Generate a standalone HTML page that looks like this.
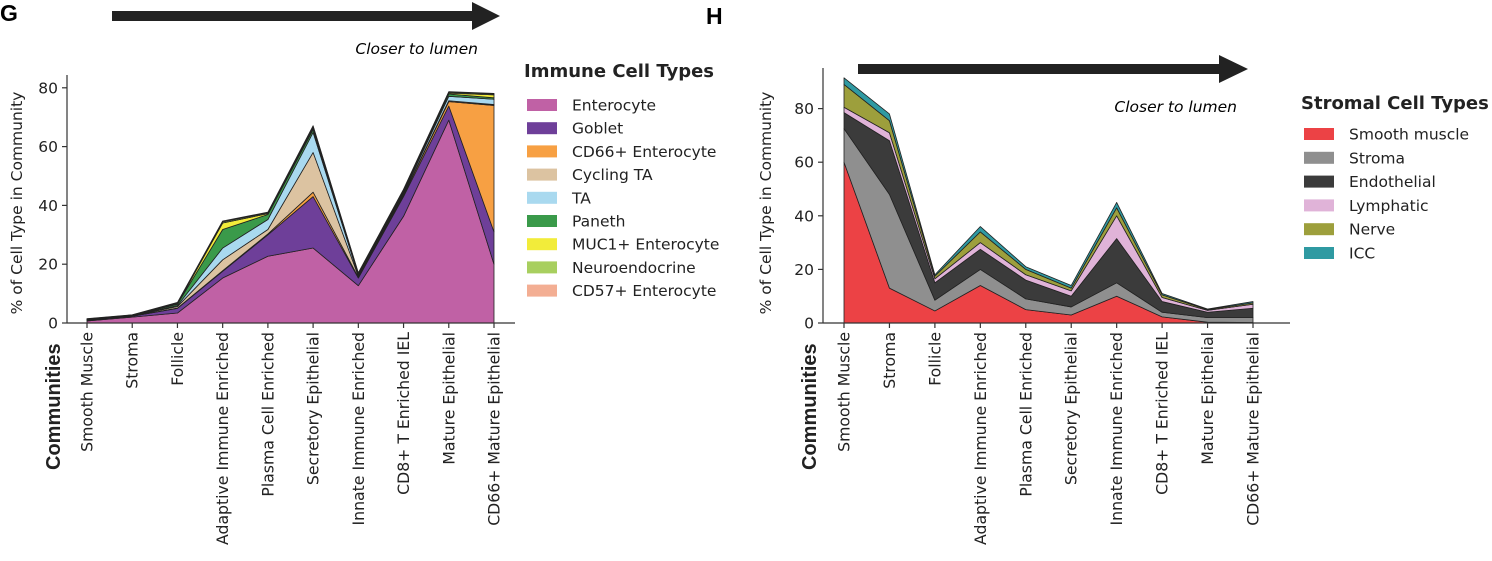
<!DOCTYPE html>
<html><head><meta charset="utf-8"><style>
html,body{margin:0;padding:0;background:#fff;}
svg{display:block;font-family:"DejaVu Sans","Liberation Sans",sans-serif;}
</style></head><body>
<svg id="fig" width="1492" height="561" viewBox="0 0 1492 561" xmlns="http://www.w3.org/2000/svg">
<text x="0" y="21" font-size="23" font-weight="bold" font-family="Liberation Sans, sans-serif">G</text>
<text x="706" y="24" font-size="23" font-weight="bold" font-family="Liberation Sans, sans-serif">H</text>
<g><rect x="112" y="11" width="362" height="10" fill="#222"/><polygon points="472,2 500,16 472,30" fill="#222"/></g>
<text x="478" y="54" text-anchor="end" font-size="15.5" font-style="italic">Closer to lumen</text>
<g><rect x="858" y="64" width="362" height="10" fill="#222"/><polygon points="1219,55 1248,69 1219,83" fill="#222"/></g>
<text x="1237" y="112" text-anchor="end" font-size="15.5" font-style="italic">Closer to lumen</text>
</svg>
<script>
const categories=["Smooth Muscle","Stroma","Follicle","Adaptive Immune Enriched","Plasma Cell Enriched","Secretory Epithelial","Innate Immune Enriched","CD8+ T Enriched IEL","Mature Epithelial","CD66+ Mature Epithelial"];
const immuneNames=["Enterocyte","Goblet","CD66+ Enterocyte","Cycling TA","TA","Paneth","MUC1+ Enterocyte","Neuroendocrine","CD57+ Enterocyte"];
const immuneColors=["#c061a5","#6e3f99","#f7a043","#dcc3a1","#a9d9ef","#3a9a4a","#f2ec3a","#a8cf5f","#f3ae93"];
const enterocyte=[0.7,2,3.4,15.3,22.7,25.5,12.7,36.3,69,20];
const goblet=[0.3,0.3,1.6,2.3,7.3,17.5,2.6,6.7,4.8,11];
const cd66Ent=[0,0,0.1,0.2,0.3,1.5,0.3,0.5,1.5,43];
const cyclingTA=[0.1,0.1,0.5,3.7,1.5,13.5,0.3,0.3,0.3,0.3];
const ta=[0.1,0.1,0.3,4,3.4,6.8,0.3,0.5,1.5,1.8];
const paneth=[0.1,0.1,0.5,6.3,1.7,1,0.3,0.5,0.8,0.5];
const muc1=[0,0,0.1,2.2,0.3,0.5,0.1,0.2,0.3,1];
const neuro=[0.1,0.1,0.3,0.4,0.3,0.5,0.3,0.3,0.3,0.3];
const cd57=[0.1,0.1,0.2,0.3,0.2,0.3,0.2,0.2,0.2,0.2];
const stromalNames=["Smooth muscle","Stroma","Endothelial","Lymphatic","Nerve","ICC"];
const stromalColors=["#ec4245","#8f8f8f","#3b3b3b","#e0b3d8","#9d9f3c","#2f9aa2"];
const smoothMuscle=[60,13,4.5,14,5,3,10,2.3,0.3,0.2];
const stroma=[12.5,35,4,6,4,3,5,1.7,1.7,1.8];
const endothelial=[6,20,6.5,7.5,7,4,16.5,4,2,3.5];
const lymphatic=[2,3,1.5,2.5,2,2,8.5,1.5,0.7,1.5];
const nerve=[8.5,4.5,1,4,2,1,3,1,0.3,0.5];
const icc=[2.5,2.5,0.5,2,1,1,2,0.5,0.2,0.5];
const yTicks=[0,20,40,60,80];

const NS="http://www.w3.org/2000/svg";
const svg=document.getElementById('fig');
function el(tag,attrs,parent){const e=document.createElementNS(NS,tag);for(const k in attrs)e.setAttribute(k,attrs[k]);(parent||svg).appendChild(e);return e;}

function drawChart(cfg){
  const g=el('g',{});
  
  
  const xS=i=>cfg.x0+i*(cfg.x1-cfg.x0)/(categories.length-1);
  const yS=v=>cfg.yZero-v*cfg.pxPerUnit;
  let cum=categories.map(()=>0);
  cfg.series.forEach((s,si)=>{
    const top=cum.map((c,i)=>c+s[i]);
    let pts=top.map((v,i)=>xS(i)+','+yS(v));
    for(let i=categories.length-1;i>=0;i--)pts.push(xS(i)+','+yS(cum[i]));
    const p=el('polygon',{points:pts.join(' '),fill:cfg.colors[si],stroke:'#222','stroke-width':0.8,'stroke-linejoin':'round'},g);
    
    
    cum=top;
  });
  const ya=el('line',{x1:cfg.axisX,y1:cfg.axisTop,x2:cfg.axisX,y2:cfg.yZero,stroke:'#333','stroke-width':1.2},g);
  
  const xa=el('line',{x1:cfg.axisX,y1:cfg.yZero,x2:cfg.axisRight,y2:cfg.yZero,stroke:'#333','stroke-width':1.2},g);
  
  yTicks.forEach(t=>{
    el('line',{x1:cfg.axisX-5,y1:yS(t),x2:cfg.axisX,y2:yS(t),stroke:'#333','stroke-width':1.2},g);
    const tx=el('text',{x:cfg.axisX-9,y:yS(t)+5.5,'text-anchor':'end','font-size':15.5,fill:'#222'},g);
    tx.textContent=t;
    
  });
  categories.forEach((c,i)=>{
    el('line',{x1:xS(i),y1:cfg.yZero,x2:xS(i),y2:cfg.yZero+5,stroke:'#333','stroke-width':1.2},g);
    const tx=el('text',{x:0,y:0,'text-anchor':'end','font-size':15.7,fill:'#222',transform:`translate(${xS(i)+5.5},${cfg.yZero+9}) rotate(-90)`},g);
    tx.textContent=c;
    
  });
  const yt=el('text',{x:0,y:0,'text-anchor':'middle','font-size':15.5,fill:'#222',transform:`translate(${cfg.yTitleX},${cfg.yZero-120}) rotate(-90)`},g);
  yt.textContent='% of Cell Type in Community';
  
  const xt=el('text',{x:0,y:0,'text-anchor':'start','font-size':20,'font-weight':'bold','font-family':'Liberation Sans, sans-serif',fill:'#222',transform:`translate(${cfg.xTitleX},${cfg.xTitleBottom}) rotate(-90)`},g);
  xt.textContent='Communities';
  
  const lg=el('g',{},g);
  
  const lt=el('text',{x:cfg.legX-3,y:cfg.legTitleY,'font-size':18,'font-weight':'bold',fill:'#222'},lg);
  lt.textContent=cfg.legTitle;
  
  cfg.names.forEach((n,i)=>{
    const y=cfg.legY0+i*cfg.legStep;
    const r=el('rect',{x:cfg.legX,y:y-6,width:30,height:12,fill:cfg.colors[i]},lg);
    
    const t=el('text',{x:cfg.legX+45,y:y+5.5,'font-size':15.5,fill:'#222'},lg);
    t.textContent=n;
    
  });
}
drawChart({name:'immune-chart',series:[enterocyte,goblet,cd66Ent,cyclingTA,ta,paneth,muc1,neuro,cd57],colors:immuneColors,names:immuneNames,
  x0:87,x1:494,yZero:323,pxPerUnit:2.94,axisX:67,axisTop:75,axisRight:515,yTitleX:22,xTitleX:60,xTitleBottom:470,
  legX:527,legTitle:'Immune Cell Types',legTitleY:77,legY0:105,legStep:23.2});
drawChart({name:'stromal-chart',series:[smoothMuscle,stroma,endothelial,lymphatic,nerve,icc],colors:stromalColors,names:stromalNames,
  x0:844,x1:1253,yZero:323,pxPerUnit:2.68,axisX:823,axisTop:68,axisRight:1290,yTitleX:771,xTitleX:816,xTitleBottom:470,
  legX:1304,legTitle:'Stromal Cell Types',legTitleY:109,legY0:134,legStep:23.8});
</script>
</body></html>
